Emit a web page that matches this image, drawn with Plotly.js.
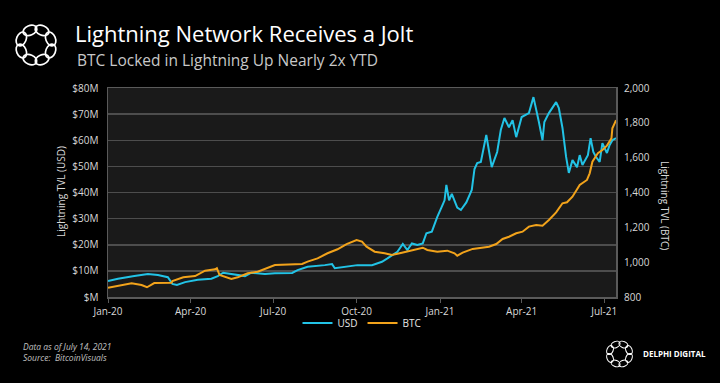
<!DOCTYPE html>
<html><head><meta charset="utf-8">
<script src="https://cdn.plot.ly/plotly-3.0.1.min.js"></script>
<style>html,body{margin:0;padding:0;background:#000;}#chart{width:720px;height:383px;}</style>
</head><body><div id="chart"></div>
<script>
// USD series ($M)
const usdDates = ['2020-01-01','2020-01-12','2020-01-30','2020-02-14','2020-02-25','2020-03-07','2020-03-12','2020-03-17','2020-03-26','2020-04-09','2020-04-24','2020-05-01','2020-05-07','2020-05-16','2020-05-31','2020-06-07','2020-06-22','2020-07-03','2020-07-14','2020-07-22','2020-07-28','2020-08-08','2020-08-27','2020-09-04','2020-09-07','2020-09-18','2020-10-02','2020-10-18','2020-10-29','2020-11-04','2020-11-15','2020-11-21','2020-11-26','2020-12-01','2020-12-07','2020-12-13','2020-12-17','2020-12-23','2020-12-29','2021-01-03','2021-01-06','2021-01-08','2021-01-11','2021-01-14','2021-01-20','2021-01-24','2021-01-30','2021-02-05','2021-02-08','2021-02-11','2021-02-15','2021-02-21','2021-02-24','2021-02-27','2021-03-05','2021-03-09','2021-03-13','2021-03-18','2021-03-22','2021-03-26','2021-04-01','2021-04-06','2021-04-09','2021-04-14','2021-04-17','2021-04-20','2021-04-24','2021-04-26','2021-05-01','2021-05-05','2021-05-09','2021-05-12','2021-05-16','2021-05-20','2021-05-23','2021-05-27','2021-06-01','2021-06-04','2021-06-07','2021-06-13','2021-06-16','2021-06-19','2021-06-22','2021-06-26','2021-06-29','2021-07-04','2021-07-07','2021-07-10','2021-07-14'];
const usdValues = [6.1,7.0,8.0,8.8,8.4,7.6,5.0,4.6,5.7,6.6,7.0,8.0,9.3,8.8,8.0,9.3,8.8,9.1,9.2,9.2,10.3,11.6,12.2,12.6,11.0,11.6,12.2,12.2,13.5,14.8,17.3,20.3,18.0,20.5,19.9,20.5,24.4,25.0,30.7,34.6,37.0,42.9,37.0,39.5,34.2,33.3,36.2,41.0,49.0,51.3,51.7,62.0,55.5,49.7,55.5,63.9,68.5,65.0,67.7,61.2,68.9,69.7,70.4,76.5,72.3,67.0,60.0,67.0,70.4,72.3,74.6,72.3,64.7,53.6,47.5,52.4,49.7,54.3,50.5,54.3,60.8,55.5,53.6,51.7,58.9,55.1,58.2,60.0,60.8];

// BTC series
const btcDates = ['2020-01-01','2020-01-19','2020-01-27','2020-02-07','2020-02-13','2020-02-21','2020-03-11','2020-03-12','2020-03-24','2020-04-06','2020-04-17','2020-04-28','2020-04-30','2020-05-03','2020-05-16','2020-05-23','2020-06-03','2020-06-14','2020-06-25','2020-07-03','2020-08-02','2020-08-08','2020-08-19','2020-08-30','2020-09-10','2020-09-20','2020-10-01','2020-10-07','2020-10-12','2020-10-21','2020-11-01','2020-11-09','2020-11-20','2020-12-04','2020-12-13','2020-12-18','2020-12-29','2021-01-09','2021-01-17','2021-01-20','2021-01-26','2021-02-06','2021-02-17','2021-02-24','2021-03-04','2021-03-11','2021-03-18','2021-03-26','2021-04-02','2021-04-09','2021-04-17','2021-04-24','2021-05-01','2021-05-09','2021-05-16','2021-05-21','2021-05-27','2021-06-04','2021-06-12','2021-06-15','2021-06-18','2021-06-24','2021-06-29','2021-07-04','2021-07-09','2021-07-10','2021-07-13','2021-07-14'];
const btcValues = [853,869,879,869,856,880,882,892,913,920,951,959,965,926,903,913,936,945,965,984,990,1003,1022,1051,1074,1104,1127,1118,1089,1060,1051,1041,1054,1074,1083,1070,1060,1066,1051,1037,1055,1076,1085,1089,1104,1133,1146,1166,1175,1204,1213,1209,1242,1286,1338,1344,1376,1443,1472,1510,1577,1625,1644,1669,1711,1769,1803,1815];

const usdTickVals = [0,10,20,30,40,50,60,70,80];
const usdTickText = ['$M','$10M','$20M','$30M','$40M','$50M','$60M','$70M','$80M'];
const btcTickVals = [800,1000,1200,1400,1600,1800,2000];
const xTickVals = ['2020-01-01','2020-04-01','2020-07-01','2020-10-01','2021-01-01','2021-04-01','2021-07-01'];
const xTickText = ['Jan-20','Apr-20','Jul-20','Oct-20','Jan-21','Apr-21','Jul-21'];

const FONT = 'Open Sans, Lato, sans-serif';
const tickFont = {family: FONT, size: 10, color: '#d9d9d9'};

function logo(){
  let s = '<svg xmlns="http://www.w3.org/2000/svg" viewBox="-50 -50 100 100">';
  for (let i = 0; i < 8; i++) {
    s += '<ellipse cx="0" cy="-33" rx="15" ry="10" transform="rotate(' + (i*45+22.5) + ')" fill="none" stroke="white" stroke-width="3.5"/>';
  }
  s += '</svg>';
  return 'data:image/svg+xml;base64,' + btoa(s);
}

const traces = [
  {x: usdDates, y: usdValues, name: 'USD', type: 'scatter', mode: 'lines',
   line: {color: '#22c3e6', width: 2}, yaxis: 'y'},
  {x: btcDates, y: btcValues, name: 'BTC', type: 'scatter', mode: 'lines',
   line: {color: '#f2a31b', width: 2}, yaxis: 'y2'}
];

const PW = 508, PH = 209, L = 108, T = 88;
const px = v => (v - L) / PW;
const py = v => (T + PH - v) / PH;

const layout = {
  width: 720, height: 383, autosize: false,
  paper_bgcolor: '#000', plot_bgcolor: '#1a1a1a',
  margin: {l: 108, r: 104, t: 88, b: 86, pad: 0},
  font: {family: FONT, color: '#d9d9d9'},
  title: {text: 'Lightning Network Receives a Jolt', xref: 'container', yref: 'container',
          x: 75/720, xanchor: 'left', y: 1 - 34/383, yanchor: 'middle',
          font: {family: FONT, size: 22, color: '#ffffff'}},
  xaxis: {type: 'date', range: ['2020-01-01', '2021-07-14'], tickvals: xTickVals, ticktext: xTickText,
          showgrid: false, zeroline: false, showline: true, linecolor: '#5a5a5a', linewidth: 1.5, mirror: true,
          ticks: 'outside', ticklen: 4, tickcolor: '#5a5a5a', tickfont: tickFont},
  yaxis: {range: [0, 80], tickvals: usdTickVals, ticktext: usdTickText, showgrid: true,
          gridcolor: '#4d4d4d', gridwidth: 1.5, zeroline: false, showline: true, linecolor: '#5a5a5a',
          linewidth: 1.5, mirror: true, ticks: '', ticklabelstandoff: 6, tickfont: tickFont},
  yaxis2: {range: [800, 2000], tickvals: btcTickVals, tickformat: ',', overlaying: 'y', side: 'right',
           showgrid: false, zeroline: false, showline: false, ticks: '', ticklabelstandoff: 7, tickfont: tickFont},
  showlegend: true,
  legend: {orientation: 'h', x: 0.5, xanchor: 'center', y: py(323), yanchor: 'middle',
           font: {family: FONT, size: 10, color: '#e6e6e6'}, bgcolor: 'rgba(0,0,0,0)', itemwidth: 30},
  annotations: [
    {text: 'BTC Locked in Lightning Up Nearly 2x YTD', xref: 'paper', yref: 'paper', x: px(75), y: py(60),
     xanchor: 'left', yanchor: 'middle', showarrow: false, font: {family: FONT, size: 15.5, color: '#c8c8c8'}},
    {text: 'Lightning TVL (USD)', xref: 'paper', yref: 'paper', x: px(61), y: py(192), textangle: -90,
     xanchor: 'center', yanchor: 'middle', showarrow: false, font: {family: FONT, size: 10, color: '#d9d9d9'}},
    {text: 'Lightning TVL (BTC)', xref: 'paper', yref: 'paper', x: px(665), y: py(205), textangle: 90,
     xanchor: 'center', yanchor: 'middle', showarrow: false, font: {family: FONT, size: 10, color: '#d9d9d9'}},
    {text: '<i>Data as of July 14, 2021</i><br><i>Source:  BitcoinVisuals</i>', xref: 'paper', yref: 'paper',
     x: px(21), y: py(352), xanchor: 'left', yanchor: 'middle', align: 'left', showarrow: false,
     font: {family: FONT, size: 8.5, color: '#c0c0c0'}},
    {text: '<b>DELPHI DIGITAL</b>', xref: 'paper', yref: 'paper', x: px(641), y: py(353),
     xanchor: 'left', yanchor: 'middle', showarrow: false, font: {family: FONT, size: 8, color: '#ffffff'}}
  ],
  images: [
    {source: logo(), xref: 'paper', yref: 'paper', x: px(36), y: py(45), sizex: 48/PW, sizey: 48/PH,
     xanchor: 'center', yanchor: 'middle', sizing: 'contain', layer: 'above'},
    {source: logo(), xref: 'paper', yref: 'paper', x: px(619.5), y: py(354), sizex: 31/PW, sizey: 31/PH,
     xanchor: 'center', yanchor: 'middle', sizing: 'contain', layer: 'above'}
  ]
};

Plotly.newPlot('chart', traces, layout, {displayModeBar: false, staticPlot: true});
</script>
</body></html>
